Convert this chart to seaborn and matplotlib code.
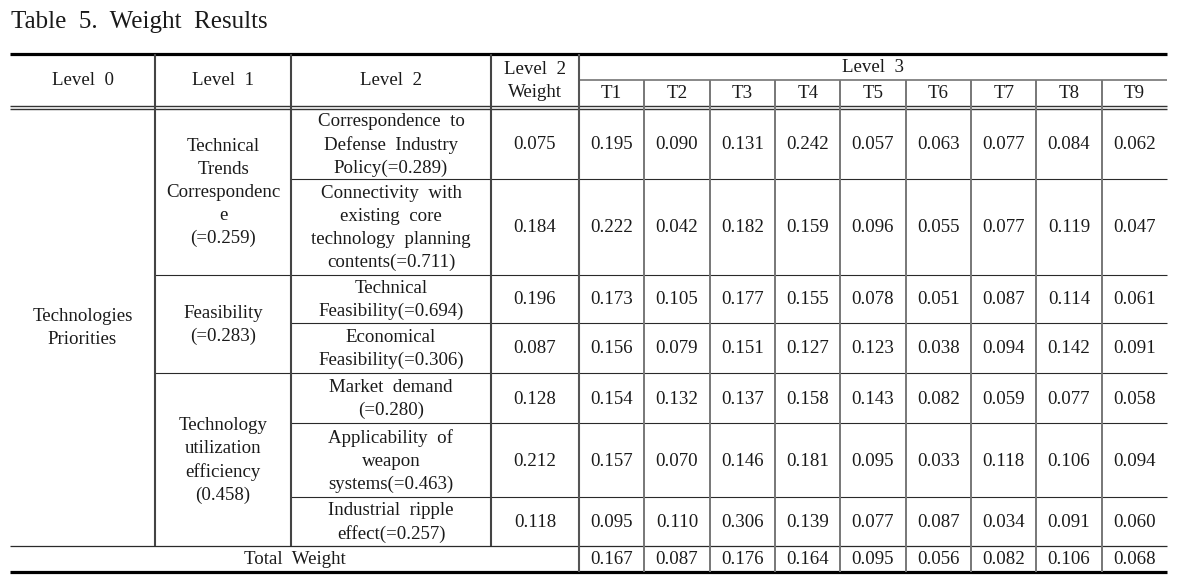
import numpy as np
import pandas as pd
import matplotlib
matplotlib.use("Agg")
import matplotlib.pyplot as plt
import seaborn as sns

# %%
# table content
title = "Table 5. Weight Results"
header_levels = ["Level 0", "Level 1", "Level 2", "Level 2\nWeight"]
level3_label = "Level 3"
t_labels = ["T1", "T2", "T3", "T4", "T5", "T6", "T7", "T8", "T9"]

level0 = "Technologies\nPriorities"
level1 = ["Technical\nTrends\nCorrespondenc\ne\n(=0.259)",
          "Feasibility\n(=0.283)",
          "Technology\nutilization\nefficiency\n(0.458)"]
level1_rows = [2, 2, 3]   # how many level 2 rows each level 1 group spans

level2 = ["Correspondence  to\nDefense  Industry\nPolicy(=0.289)",
          "Connectivity  with\nexisting  core\ntechnology  planning\ncontents(=0.711)",
          "Technical\nFeasibility(=0.694)",
          "Economical\nFeasibility(=0.306)",
          "Market  demand\n(=0.280)",
          "Applicability  of\nweapon\nsystems(=0.463)",
          "Industrial  ripple\neffect(=0.257)"]
level2_weight = [0.075, 0.184, 0.196, 0.087, 0.128, 0.212, 0.118]

t_values = [
    [0.195, 0.090, 0.131, 0.242, 0.057, 0.063, 0.077, 0.084, 0.062],
    [0.222, 0.042, 0.182, 0.159, 0.096, 0.055, 0.077, 0.119, 0.047],
    [0.173, 0.105, 0.177, 0.155, 0.078, 0.051, 0.087, 0.114, 0.061],
    [0.156, 0.079, 0.151, 0.127, 0.123, 0.038, 0.094, 0.142, 0.091],
    [0.154, 0.132, 0.137, 0.158, 0.143, 0.082, 0.059, 0.077, 0.058],
    [0.157, 0.070, 0.146, 0.181, 0.095, 0.033, 0.118, 0.106, 0.094],
    [0.095, 0.110, 0.306, 0.139, 0.077, 0.087, 0.034, 0.091, 0.060],
]
total_label = "Total  Weight"
total_weight = [0.167, 0.087, 0.176, 0.164, 0.095, 0.056, 0.082, 0.106, 0.068]

df = pd.DataFrame(t_values, columns=t_labels)
df.insert(0, "weight", level2_weight)

# %%
# layout (pixel grid of the page)
col_x = [10, 155, 291, 491, 579] + list(np.linspace(579, 1167, 10)[1:])
top_y, l3_y, dbl_y1, dbl_y2 = 53.5, 80, 105.8, 108.6
row_y = [108.6, 179, 275, 322.5, 373.3, 423.3, 496.7, 545.7]
bottom_y = 571.5

sns.set_theme(style="white")
plt.rcParams["font.family"] = ["Liberation Serif", "DejaVu Serif"]

fig = plt.figure(figsize=(11.87, 5.76), dpi=100)
ax = fig.add_axes([0, 0, 1, 1])
ax.set_xlim(0, 1187)
ax.set_ylim(576, 0)
ax.axis("off")

fs = 13.6
txt = "#1a1a1a"
ls = 1.45

def cell(x0, x1, y0, y1, s, size=fs):
    ax.text((x0 + x1) / 2, (y0 + y1) / 2 + 1, s, ha="center", va="center",
            fontsize=size, color=txt, linespacing=ls)

# title
ax.text(11, 28, "Table  5.  Weight  Results", ha="left", va="baseline",
        fontsize=18, color=txt)

# rules
ax.hlines(top_y, 10, 1167, color="black", lw=2.3)
ax.hlines(bottom_y, 10, 1167, color="black", lw=2.3)
ax.hlines([dbl_y1, dbl_y2], 10, 1167, color="#333333", lw=1.0)
ax.hlines(l3_y, col_x[4], 1167, color="#888888", lw=1.4)

# row separators
starts = []
for g in level1_rows:
    starts += [col_x[2]] * (g - 1) + [col_x[1]]
for y, x0 in zip(row_y[1:-1], starts[:-1]):
    ax.hlines(y, x0, 1167, color="#2a2a2a", lw=0.8)
ax.hlines(row_y[-1], 10, 1167, color="#2a2a2a", lw=0.9)

# verticals
ax.vlines(col_x[1:4], top_y, row_y[-1], color="#444444", lw=1.5)
ax.vlines(col_x[4], top_y, bottom_y, color="#555555", lw=1.5)
ax.vlines(col_x[5:-1], l3_y, bottom_y, color="#777777", lw=1.4)

# header
for i, h in enumerate(header_levels):
    cell(col_x[i], col_x[i + 1], top_y, dbl_y1, h.replace(" ", "  "))
cell(col_x[4], col_x[-1], top_y, l3_y, level3_label.replace(" ", "  "))
for j, t in enumerate(t_labels):
    cell(col_x[4 + j], col_x[5 + j], l3_y, dbl_y1, t)

# body
cell(col_x[0], col_x[1], row_y[0], row_y[-1], level0)
r = 0
for name, g in zip(level1, level1_rows):
    cell(col_x[1], col_x[2], row_y[r], row_y[r + g], name)
    r += g
for i, name in enumerate(level2):
    y0, y1 = row_y[i], row_y[i + 1]
    cell(col_x[2], col_x[3], y0, y1, name)
    cell(col_x[3], col_x[4], y0, y1, f"{df['weight'][i]:.3f}")
    for j, t in enumerate(t_labels):
        cell(col_x[4 + j], col_x[5 + j], y0, y1, f"{df[t][i]:.3f}")

# total row
cell(col_x[0], col_x[4], row_y[-1], bottom_y, total_label)
for j, v in enumerate(total_weight):
    cell(col_x[4 + j], col_x[5 + j], row_y[-1], bottom_y, f"{v:.3f}")

fig.savefig("out.png", dpi=100)
